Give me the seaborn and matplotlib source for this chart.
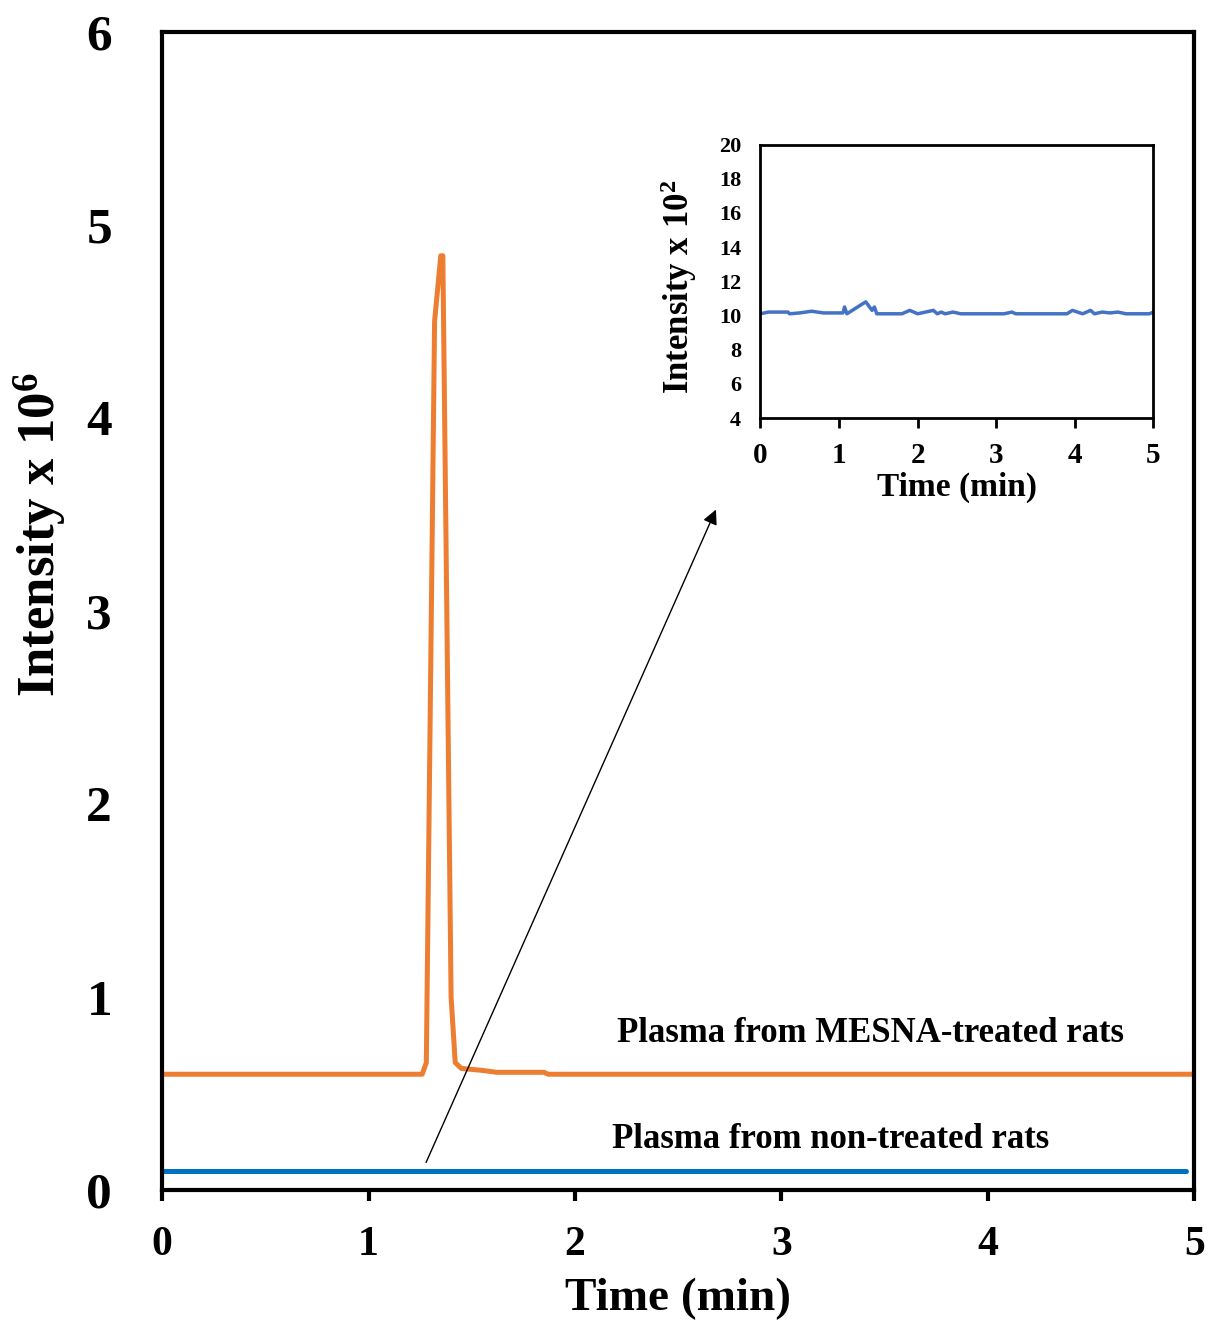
import seaborn as sns
import pandas as pd
import matplotlib.pyplot as plt

sns.set_style("white")
plt.rcParams['font.family'] = ['Liberation Serif', 'DejaVu Serif']
plt.rcParams['font.weight'] = 'bold'
plt.rcParams['text.color'] = 'black'
plt.rcParams['axes.labelcolor'] = 'black'
plt.rcParams['xtick.color'] = 'black'
plt.rcParams['ytick.color'] = 'black'
plt.rcParams['mathtext.fontset'] = 'custom'
plt.rcParams['mathtext.rm'] = 'Liberation Serif:bold'
plt.rcParams['mathtext.it'] = 'Liberation Serif:bold'
plt.rcParams['mathtext.bf'] = 'Liberation Serif:bold'

# main chromatograms (intensity x 10^6)
mesna_time = [0, 1.26, 1.28, 1.32, 1.35, 1.36, 1.40, 1.42, 1.45, 1.55, 1.62, 1.85, 1.87, 5.0]
mesna_int = [0.6, 0.6, 0.66, 4.5, 4.84, 4.84, 1.0, 0.66, 0.63, 0.62, 0.61, 0.61, 0.6, 0.6]
blank_time = [0, 4.96]
blank_int = [0.1, 0.1]

# inset: non-treated plasma (intensity x 10^2)
inset_time = [0, 0.1, 0.35, 0.37, 0.5, 0.65, 0.8, 1.05, 1.07, 1.1, 1.34, 1.42, 1.45, 1.48,
              1.8, 1.9, 2.0, 2.2, 2.25, 2.3, 2.35, 2.45, 2.55, 3.1, 3.2, 3.25, 3.9, 3.97,
              4.1, 4.2, 4.25, 4.35, 4.45, 4.55, 4.65, 4.95, 5.0]
inset_int = [10.1, 10.2, 10.2, 10.1, 10.15, 10.25, 10.15, 10.15, 10.5, 10.1, 10.8, 10.3, 10.5, 10.1,
             10.1, 10.3, 10.1, 10.3, 10.1, 10.2, 10.1, 10.2, 10.1, 10.1, 10.2, 10.1, 10.1, 10.3,
             10.1, 10.3, 10.1, 10.2, 10.15, 10.2, 10.1, 10.1, 10.2]

fig = plt.figure(figsize=(12.09, 13.27), dpi=100)
ax = fig.add_axes([0.134, 0.1032, 0.854, 0.8728])

sns.lineplot(x=mesna_time, y=mesna_int, ax=ax, color='#ED7D31', linewidth=3.6, estimator=None, sort=False)
sns.lineplot(x=blank_time, y=blank_int, ax=ax, color='#0070C0', linewidth=3.6, estimator=None, sort=False)
ax.set_xlim(0, 5)
ax.set_ylim(0, 6)
ax.set_xticks([0, 1, 2, 3, 4, 5])
ax.set_yticks([0, 1, 2, 3, 4, 5, 6])
ax.tick_params(axis='x', direction='out', length=8, width=3, labelsize=30, pad=18, bottom=True)
ax.tick_params(axis='y', length=0, labelsize=37, pad=36)
for s in ax.spines.values():
    s.set_linewidth(3)
    s.set_color('black')
ax.set_xlabel('Time (min)', fontsize=34, fontweight='bold', labelpad=10)
ax.set_ylabel('Intensity x 10$^{6}$', fontsize=38, fontweight='bold')
ax.yaxis.set_label_coords(-0.09, 0.566)

ax.text(3.43, 0.81, 'Plasma from MESNA-treated rats', fontsize=25, fontweight='bold', ha='center', va='center')
ax.text(3.24, 0.26, 'Plasma from non-treated rats', fontsize=25, fontweight='bold', ha='center', va='center')

# inset
ins = fig.add_axes([0.629, 0.685, 0.325, 0.206])
sns.lineplot(x=inset_time, y=inset_int, ax=ins, color='#4472C4', linewidth=2.5, estimator=None, sort=False)
ins.set_xlim(0, 5)
ins.set_ylim(4, 20)
ins.set_xticks([0, 1, 2, 3, 4, 5])
ins.set_yticks(list(range(4, 21, 2)))
ins.tick_params(axis='x', direction='out', length=7, width=2, labelsize=21, pad=10, bottom=True)
ins.tick_params(axis='y', length=0, labelsize=16, pad=14)
for s in ins.spines.values():
    s.set_linewidth(2)
    s.set_color('black')
ins.set_xlabel('Time (min)', fontsize=24, fontweight='bold', labelpad=2)
ins.set_ylabel('Intensity x 10$^{2}$', fontsize=25, fontweight='bold')
ins.yaxis.set_label_coords(-0.157, 0.48)

# arrow from baseline to inset
fig.add_artist(plt.matplotlib.patches.FancyArrowPatch(
    (0.3515, 0.1221), (0.5931, 0.6179), transform=fig.transFigure,
    arrowstyle='-|>', mutation_scale=22, linewidth=1.0, color='black'))

fig.savefig('out.png', dpi=100)
